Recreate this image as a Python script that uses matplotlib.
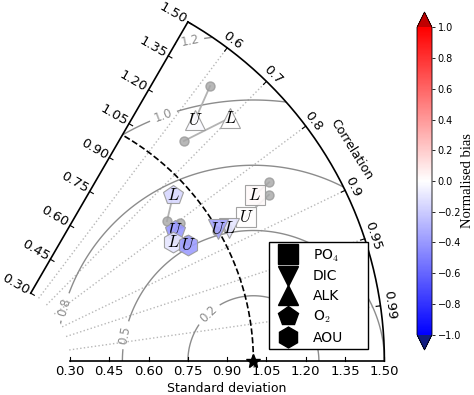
"""Taylor diagram of upper (U) and lower (L) model fits, coloured by normalised bias."""

import matplotlib

matplotlib.use("Agg")
import matplotlib.pyplot as plt
import numpy as np
from matplotlib import cm, colors
from matplotlib.lines import Line2D
from matplotlib.patches import Rectangle, Wedge

plt.rcParams["mathtext.fontset"] = "cm"

# ---- data (standard deviation, correlation, normalised bias) ----
VARIABLES = ["PO$_4$", "DIC", "ALK", "O$_2$", "AOU"]
MARKERS = ["s", "v", "^", "p", "h"]

U_STD = [1.118, 1.002, 1.207, 0.862, 0.872]
U_CORR = [0.869, 0.863, 0.644, 0.813, 0.861]
U_BIAS = [0.0, -0.35, -0.02, -0.40, -0.38]
U_DOT_STD = [1.236, 0.995, 1.344, 0.893, 0.880]
U_DOT_CORR = [0.857, 0.866, 0.621, 0.806, 0.850]

L_STD = [1.190, 1.040, 1.303, 0.941, 0.830]
L_CORR = [0.845, 0.872, 0.699, 0.737, 0.835]
L_BIAS = [0.02, -0.10, 0.0, -0.15, -0.10]
L_DOT_STD = [1.262, 1.035, 1.118, 0.858, 0.845]
L_DOT_CORR = [0.840, 0.870, 0.657, 0.781, 0.830]

REF_STD = 1.0
STD_TICKS = [0.30, 0.45, 0.60, 0.75, 0.90, 1.05, 1.20, 1.35, 1.50]
CORR_TICKS = [0.6, 0.7, 0.8, 0.9, 0.95, 0.99]
RMS_LEVELS = [0.25, 0.5, 0.75, 1.0, 1.25]
RMS_LABEL_XY = [(0.815, 0.195), (0.506, 0.10), (0.281, 0.207), (0.655, 0.943), (0.758, 1.226)]

SMIN, SMAX = 0.3, 1.5
TMAX = np.arccos(0.5)


def pol2xy(s, corr):
    t = np.arccos(np.asarray(corr))
    s = np.asarray(s)
    return s * np.cos(t), s * np.sin(t)


fig = plt.figure(figsize=(4.74, 3.95), dpi=100)
ax = fig.add_axes([0, 0, 1, 1])
ax.set_xlim(8.6 / 262, 482.6 / 262)
ax.set_ylim(-34 / 261, 361 / 261)
ax.axis("off")

wedge = Wedge((0, 0), SMAX, 0, np.degrees(TMAX), width=SMAX - SMIN, transform=ax.transData)

# frame
th = np.linspace(0, TMAX, 200)
ax.plot(SMAX * np.cos(th), SMAX * np.sin(th), color="black", lw=1.2, zorder=10, clip_on=False)
ax.plot([SMIN * np.cos(TMAX), SMAX * np.cos(TMAX)], [SMIN * np.sin(TMAX), SMAX * np.sin(TMAX)],
        color="black", lw=1.2, zorder=10, clip_on=False)
ax.plot([SMIN, SMAX], [0, 0], color="black", lw=1.2, zorder=10, clip_on=False)

# std ticks, bottom and left
nx, ny = np.sin(TMAX), -np.cos(TMAX)
for s in STD_TICKS:
    ax.plot([s, s], [0, 0.016], color="black", lw=0.8, zorder=10)
    ax.text(s, -0.042, f"{s:.2f}", ha="center", va="center", fontsize=9.5)
    x0, y0 = s * np.cos(TMAX), s * np.sin(TMAX)
    ax.plot([x0, x0 + 0.016 * nx], [y0, y0 + 0.016 * ny], color="black", lw=0.8, zorder=10)
    ax.text(x0 - 0.067 * nx, y0 - 0.067 * ny, f"{s:.2f}", ha="center", va="center",
            fontsize=9.5, rotation=np.degrees(TMAX) - 90)

# correlation ticks and grid
for c in CORR_TICKS:
    t = np.arccos(c)
    ax.plot([SMIN * np.cos(t), SMAX * np.cos(t)], [SMIN * np.sin(t), SMAX * np.sin(t)],
            color="0.72", ls=":", lw=1.0, zorder=1)
    ax.plot([SMAX * np.cos(t), (SMAX - 0.016) * np.cos(t)],
            [SMAX * np.sin(t), (SMAX - 0.016) * np.sin(t)], color="black", lw=0.8, zorder=10)
    r = SMAX + 0.034
    ax.text(r * np.cos(t), r * np.sin(t), f"{c:g}", ha="center", va="center",
            fontsize=9.5, rotation=np.degrees(t) - 90)

ax.text(1.595 * np.cos(np.radians(30.5)), 1.595 * np.sin(np.radians(30.5)), "Correlation",
        ha="center", va="center", fontsize=9, rotation=-58)
ax.text(0.899, -0.107, "Standard deviation", ha="center", va="center", fontsize=9)

# RMS contours centred on the reference
X, Y = np.meshgrid(np.linspace(0, 1.6, 500), np.linspace(0, 1.45, 500))
rms = np.hypot(X - REF_STD, Y)
cs = ax.contour(X, Y, rms, levels=RMS_LEVELS, colors="0.55", linewidths=1.0, zorder=2)
cs.set_clip_path(wedge)
ax.clabel(cs, fmt="%.1f", fontsize=8.5, inline=True, manual=RMS_LABEL_XY)

# reference std arc and star
ax.plot(REF_STD * np.cos(th), REF_STD * np.sin(th), color="black", ls="--", lw=1.2, zorder=3)
ax.plot([REF_STD], [0], marker="*", color="black", ms=10, zorder=11, clip_on=False)

# model points
cmap = plt.get_cmap("bwr").with_extremes(over="#c00000", under="#101c80")
norm = colors.Normalize(vmin=-1, vmax=1)

ux, uy = pol2xy(U_STD, U_CORR)
lx, ly = pol2xy(L_STD, L_CORR)
udx, udy = pol2xy(U_DOT_STD, U_DOT_CORR)
ldx, ldy = pol2xy(L_DOT_STD, L_DOT_CORR)

z = 5
for i, m in enumerate(MARKERS):
    for (px, py, dx, dy, b, lab) in [(lx[i], ly[i], ldx[i], ldy[i], L_BIAS[i], "L"),
                                     (ux[i], uy[i], udx[i], udy[i], U_BIAS[i], "U")]:
        ax.plot([dx, px], [dy, py], color="0.7", lw=1.3, zorder=4)
        ax.plot(dx, dy, "o", color="0.65", alpha=0.8, ms=6.5, mec="0.6", zorder=4)
        ax.plot(px, py, m, ms=15, mfc=cmap(norm(b)), mec="0.6", mew=0.8, alpha=0.9, zorder=z)
        ax.text(px, py, f"${lab}$", ha="center", va="center", fontsize=12, zorder=z + 1)
        z += 2

# legend: drawn without its own frame, boxed separately
fig.patches.append(Rectangle((269 / 474, 1 - 349 / 395), 99 / 474, 107 / 395,
                             transform=fig.transFigure, fill=True, facecolor="white",
                             edgecolor="black", lw=1.0, zorder=29))
handles = [Line2D([], [], ls="none", marker=m, color="black", ms=15) for m in MARKERS]
leg = fig.legend(handles, VARIABLES, loc="upper left", bbox_to_anchor=(274 / 474, 1 - 243 / 395),
                 bbox_transform=fig.transFigure, borderaxespad=0, fontsize=10, frameon=False,
                 labelspacing=0.42, handlelength=1.4, handletextpad=1.1, borderpad=0.3)
leg.set_zorder(30)

# colourbar
cax = fig.add_axes([417 / 474, 45 / 395, 15 / 474, 338 / 395])
sm = cm.ScalarMappable(norm=norm, cmap=cmap)
cbar = fig.colorbar(sm, cax=cax, extend="both", ticks=np.linspace(-1, 1, 11))
cbar.ax.set_yticklabels([f"{v:.1f}".replace("-", "\u2212") for v in np.linspace(-1, 1, 11)])
cbar.ax.tick_params(labelsize=7, length=2.5, width=0.6, pad=1.5)
cbar.outline.set_linewidth(0.6)
cbar.set_label("Normalised bias", family="Liberation Serif", size=10.5, labelpad=0)

fig.savefig("out.png", dpi=100)
